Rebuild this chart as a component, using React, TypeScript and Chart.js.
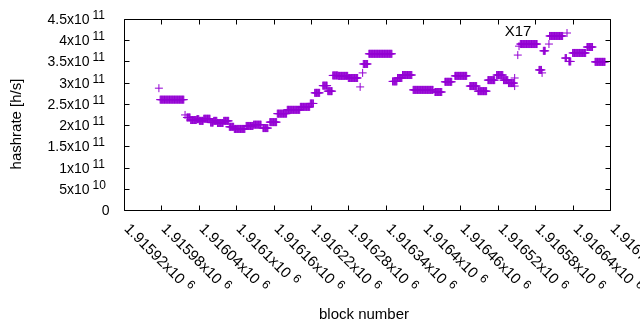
import React, { useEffect, useRef } from "react";
import { Chart, registerables } from "chart.js";

Chart.register(...registerables);

// ---- data (block ranges with constant estimated hashrate) ----
const segStart = [
  1915976, 1915978, 1916018, 1916021, 1916027, 1916037, 1916041, 1916048, 1916059, 1916064,
  1916070, 1916080, 1916089, 1916097, 1916116, 1916128, 1916143, 1916154, 1916166, 1916182,
  1916203, 1916219, 1916226, 1916239, 1916247, 1916255, 1916264, 1916280, 1916299, 1916303,
  1916304, 1916313, 1916351, 1916359, 1916367, 1916384, 1916419, 1916435, 1916451, 1916475,
  1916488, 1916504, 1916518, 1916529, 1916537, 1916547, 1916547, 1916552, 1916554, 1916556,
  1916586, 1916591, 1916593, 1916602, 1916603, 1916628, 1916631, 1916634, 1916640, 1916663,
  1916676,
];
const segEnd = [
  1915976, 1916016, 1916018, 1916026, 1916036, 1916040, 1916047, 1916058, 1916063, 1916069,
  1916079, 1916088, 1916096, 1916114, 1916127, 1916140, 1916151, 1916165, 1916181, 1916202,
  1916218, 1916224, 1916234, 1916246, 1916254, 1916263, 1916279, 1916295, 1916299, 1916303,
  1916311, 1916350, 1916358, 1916366, 1916382, 1916416, 1916430, 1916446, 1916470, 1916486,
  1916502, 1916515, 1916528, 1916536, 1916546, 1916547, 1916547, 1916552, 1916554, 1916583,
  1916590, 1916591, 1916596, 1916602, 1916624, 1916630, 1916631, 1916637, 1916661, 1916672,
  1916692,
];
const segValue = [
  2.87e11, 2.60e11, 2.24e11, 2.18e11, 2.12e11, 2.14e11, 2.10e11, 2.15e11, 2.06e11, 2.10e11,
  2.05e11, 2.10e11, 1.96e11, 1.91e11, 1.98e11, 2.01e11, 1.93e11, 2.07e11, 2.27e11, 2.36e11,
  2.43e11, 2.51e11, 2.76e11, 2.93e11, 2.80e11, 3.17e11, 3.16e11, 3.11e11, 2.90e11, 3.23e11,
  3.44e11, 3.68e11, 3.03e11, 3.11e11, 3.18e11, 2.83e11, 2.78e11, 3.02e11, 3.16e11, 2.92e11,
  2.80e11, 3.06e11, 3.18e11, 3.06e11, 2.99e11, 3.11e11, 2.92e11, 3.65e11, 3.86e11, 3.91e11,
  3.30e11, 3.23e11, 3.75e11, 3.91e11, 4.10e11, 3.58e11, 4.17e11, 3.50e11, 3.70e11, 3.84e11,
  3.49e11,
];

const xTickValues = [
  1915920, 1915980, 1916040, 1916100, 1916160, 1916220, 1916280,
  1916340, 1916400, 1916460, 1916520, 1916580, 1916640, 1916700,
];
const xTickMantissa = [
  "1.91592", "1.91598", "1.91604", "1.9161", "1.91616", "1.91622", "1.91628",
  "1.91634", "1.9164", "1.91646", "1.91652", "1.91658", "1.91664", "1.9167",
];
const xTickExp = "6";

const yTickValues = [0, 5e10, 1e11, 1.5e11, 2e11, 2.5e11, 3e11, 3.5e11, 4e11, 4.5e11];
const yTickMantissa = ["0", "5x10", "1x10", "1.5x10", "2x10", "2.5x10", "3x10", "3.5x10", "4x10", "4.5x10"];
const yTickExp = ["", "10", "11", "11", "11", "11", "11", "11", "11", "11"];

const annotationText = "X17";
const annotationX = 1916531;
const annotationY = 4.19e11;

const COLOR = "#9400D3";
const FONT = '"Liberation Sans", Arial, sans-serif';

function buildPoints() {
  const pts: { x: number; y: number }[] = [];
  for (let i = 0; i < segStart.length; i++) {
    for (let b = segStart[i]; b <= segEnd[i]; b++) {
      pts.push({ x: b, y: segValue[i] });
    }
  }
  return pts;
}

const gnuplotFrame = {
  id: "gnuplotFrame",
  afterDraw(chart: any) {
    const { ctx, chartArea, scales } = chart;
    const xs = scales.x;
    const ys = scales.y;
    const left = Math.round(chartArea.left) + 0.5;
    const right = Math.round(chartArea.right) + 0.5;
    const top = Math.round(chartArea.top) + 0.5;
    const bottom = Math.round(chartArea.bottom) + 0.5;
    ctx.save();
    ctx.strokeStyle = "#000";
    ctx.fillStyle = "#000";
    ctx.lineWidth = 1;
    ctx.beginPath();
    ctx.rect(left, top, right - left, bottom - top);
    ctx.stroke();

    const tl = 5;
    // y ticks + labels
    yTickValues.forEach((v, i) => {
      const py = Math.round(ys.getPixelForValue(v)) + 0.5;
      ctx.beginPath();
      ctx.moveTo(left, py);
      ctx.lineTo(left + tl, py);
      ctx.moveTo(right, py);
      ctx.lineTo(right - tl, py);
      ctx.stroke();
      ctx.textBaseline = "middle";
      if (yTickExp[i] === "") {
        ctx.font = "14px " + FONT;
        ctx.textAlign = "right";
        ctx.fillText(yTickMantissa[i], left - 15, py + 1);
      } else {
        ctx.font = "14px " + FONT;
        ctx.textAlign = "right";
        ctx.fillText(yTickMantissa[i], left - 35, py + 1);
        ctx.font = "12px " + FONT;
        ctx.textAlign = "left";
        ctx.fillText(yTickExp[i], left - 32, py - 4);
      }
    });

    // x ticks + labels
    xTickValues.forEach((v, i) => {
      const px = Math.round(xs.getPixelForValue(v)) + 0.5;
      ctx.beginPath();
      ctx.moveTo(px, bottom);
      ctx.lineTo(px, bottom - tl);
      ctx.moveTo(px, top);
      ctx.lineTo(px, top + tl);
      ctx.stroke();
      ctx.save();
      ctx.translate(px + 2, bottom + 16);
      ctx.rotate(Math.PI / 4);
      ctx.textAlign = "left";
      ctx.textBaseline = "middle";
      ctx.font = "15px " + FONT;
      const txt = xTickMantissa[i] + "x10";
      ctx.fillText(txt, 0, 0);
      const w = ctx.measureText(txt).width;
      ctx.font = "12px " + FONT;
      ctx.fillText(xTickExp, w + 5, -4);
      ctx.restore();
    });

    // axis titles
    ctx.font = "15px " + FONT;
    ctx.textAlign = "center";
    ctx.textBaseline = "middle";
    ctx.fillText("block number", 364, 315);
    ctx.save();
    ctx.translate(17, 124);
    ctx.rotate(-Math.PI / 2);
    ctx.fillText("hashrate [h/s]", 0, 0);
    ctx.restore();

    // annotation
    ctx.textAlign = "left";
    ctx.font = "15px " + FONT;
    ctx.fillText(annotationText, xs.getPixelForValue(annotationX), ys.getPixelForValue(annotationY));
    ctx.restore();
  },
};

export default function App() {
  const ref = useRef<HTMLCanvasElement | null>(null);
  useEffect(() => {
    document.body.style.margin = "0";
    const canvas = ref.current;
    if (!canvas) return;
    const chart = new Chart(canvas, {
      type: "scatter",
      data: {
        datasets: [
          {
            data: buildPoints(),
            pointStyle: "cross",
            pointRadius: 4,
            pointBorderWidth: 1,
            borderColor: COLOR,
            backgroundColor: COLOR,
            showLine: false,
          } as any,
        ],
      },
      options: {
        responsive: false,
        animation: false,
        devicePixelRatio: 1,
        layout: { padding: { left: 124, right: 30, top: 19, bottom: 120 } },
        plugins: { legend: { display: false }, tooltip: { enabled: false } },
        scales: {
          x: { type: "linear", min: 1915920, max: 1916700, display: false },
          y: { type: "linear", min: 0, max: 4.5e11, display: false },
        },
      },
      plugins: [gnuplotFrame],
    });
    return () => chart.destroy();
  }, []);
  return <canvas ref={ref} width={640} height={330} style={{ display: "block" }} />;
}
